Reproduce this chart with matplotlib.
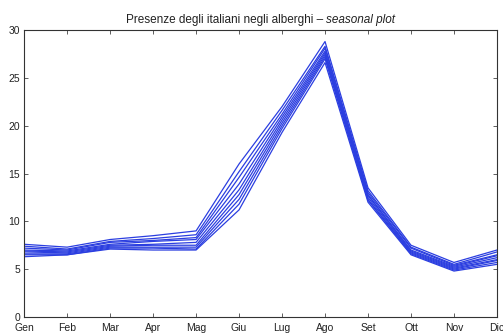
import matplotlib
matplotlib.use("Agg")
import matplotlib.pyplot as plt

months = ["Gen", "Feb", "Mar", "Apr", "Mag", "Giu", "Lug", "Ago", "Set", "Ott", "Nov", "Dic"]

# Monthly presences (millions) for each year
year1 = [7.6, 7.3, 8.1, 8.5, 9.0, 16.0, 22.0, 28.8, 13.5, 7.5, 5.7, 7.0]
year2 = [7.4, 7.1, 7.9, 8.2, 8.6, 15.2, 21.6, 28.3, 13.2, 7.3, 5.5, 6.8]
year3 = [7.2, 7.0, 7.8, 8.0, 8.3, 14.6, 21.2, 28.1, 13.0, 7.2, 5.4, 6.5]
year4 = [7.0, 6.9, 7.6, 7.9, 8.1, 13.9, 20.9, 27.8, 12.8, 7.0, 5.3, 6.4]
year5 = [6.9, 6.8, 7.5, 7.6, 7.8, 13.3, 20.6, 27.6, 12.7, 6.9, 5.2, 6.2]
year6 = [6.8, 6.7, 7.4, 7.5, 7.5, 12.8, 20.3, 27.4, 12.5, 6.8, 5.1, 6.0]
year7 = [6.6, 6.6, 7.3, 7.3, 7.3, 12.3, 20.0, 27.2, 12.3, 6.7, 5.0, 5.9]
year8 = [6.5, 6.5, 7.2, 7.2, 7.1, 11.8, 19.7, 27.0, 12.2, 6.6, 4.9, 5.7]
year9 = [6.3, 6.5, 7.1, 7.0, 7.0, 11.2, 19.3, 26.6, 12.0, 6.5, 4.8, 5.5]
years = [year1, year2, year3, year4, year5, year6, year7, year8, year9]

plt.rcParams["font.family"] = ["Liberation Sans", "DejaVu Sans"]

fig = plt.figure(figsize=(5.03, 3.34), dpi=100)
ax = fig.add_axes([0.048, 0.051, 0.940, 0.859])

x = range(1, len(months) + 1)
for y in years:
    ax.plot(x, y, color="#2b3ee0", linewidth=0.9)

ax.set_xlim(1, 12)
ax.set_ylim(0, 30)
ax.set_xticks(list(x))
ax.set_xticklabels(months)
ax.set_yticks(range(0, 31, 5))
ax.tick_params(direction="in", top=True, right=True, labelsize=7.5,
               length=3, width=0.6, color="#444444", labelcolor="#222222")
ax.tick_params(axis="x", pad=4)
ax.tick_params(axis="y", pad=3)
for s in ax.spines.values():
    s.set_linewidth(0.8)
    s.set_color("#333333")

# Title: regular part followed by an italic part, centred together
t1 = ax.text(0.5, 1.015, "Presenze degli italiani negli alberghi \u2013 ",
             transform=ax.transAxes, ha="right", va="bottom", fontsize=8.5, color="#222222")
t2 = ax.text(0.5, 1.015, "seasonal plot", transform=ax.transAxes, ha="left",
             va="bottom", fontsize=8.5, style="italic", color="#222222")
fig.canvas.draw()
inv = ax.transAxes.inverted()
bb1 = t1.get_window_extent().transformed(inv)
bb2 = t2.get_window_extent().transformed(inv)
offset = ((bb1.x1 - bb1.x0) - (bb2.x1 - bb2.x0)) / 2
t1.set_x(0.5 + offset)
t2.set_x(0.5 + offset)

fig.savefig("out.png", dpi=100)
